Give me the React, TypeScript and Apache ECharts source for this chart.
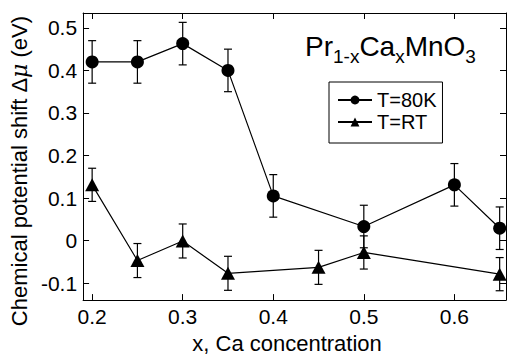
import React, { useEffect, useRef } from "react";
import * as echarts from "echarts";

const FONT = "'Liberation Sans', Arial, Helvetica, sans-serif";

const x80 = [0.2, 0.25, 0.3, 0.35, 0.4, 0.5, 0.6, 0.65];
const y80 = [0.42, 0.42, 0.463, 0.4, 0.105, 0.033, 0.131, 0.029];
const e80 = [0.05, 0.05, 0.05, 0.05, 0.05, 0.05, 0.05, 0.05];

const xRT = [0.2, 0.25, 0.3, 0.35, 0.45, 0.5, 0.65];
const yRT = [0.131, -0.047, -0.001, -0.077, -0.063, -0.028, -0.079];
const eRT = [0.039, 0.04, 0.04, 0.04, 0.04, 0.039, 0.039];

const xTicks = [0.2, 0.3, 0.4, 0.5, 0.6];
const yTicks = [-0.1, 0, 0.1, 0.2, 0.3, 0.4, 0.5];

const seriesNames = ["T=80K", "T=RT"];
const xName = "x, Ca concentration";

function errData(xs: number[], ys: number[], es: number[]) {
  return xs.map((x, i) => [x, ys[i] - es[i], ys[i] + es[i]]);
}

function errorRender(params: any, api: any) {
  const x = api.value(0);
  const lo = api.coord([x, api.value(1)]);
  const hi = api.coord([x, api.value(2)]);
  const cap = 4;
  const style = { stroke: "#000", lineWidth: 1.2 };
  return {
    type: "group",
    children: [
      { type: "line", shape: { x1: lo[0], y1: lo[1], x2: hi[0], y2: hi[1] }, style },
      { type: "line", shape: { x1: lo[0] - cap, y1: lo[1], x2: lo[0] + cap, y2: lo[1] }, style },
      { type: "line", shape: { x1: hi[0] - cap, y1: hi[1], x2: hi[0] + cap, y2: hi[1] }, style },
    ],
  };
}

const fmt = (v: number) => (Math.abs(v) < 1e-9 ? "0" : v.toFixed(1));

export default function App() {
  const ref = useRef<HTMLDivElement>(null);
  useEffect(() => {
    if (!ref.current) return;
    const chart = echarts.init(ref.current, null, { renderer: "svg" });
    const axisLine = { show: true, onZero: false, lineStyle: { color: "#000", width: 1 } };
    const tick = { show: true, inside: true, length: 6, lineStyle: { color: "#000", width: 1 } };
    chart.setOption({
      animation: false,
      backgroundColor: "#fff",
      textStyle: { fontFamily: FONT },
      grid: { left: 78, top: 13, right: 1, bottom: 51 },
      legend: {
        data: seriesNames,
        orient: "vertical",
        left: 329,
        top: 82,
        padding: [8, 6, 11, 8],
        itemGap: 2,
        itemWidth: 34,
        itemHeight: 11,
        borderColor: "#000",
        borderWidth: 1,
        textStyle: { fontFamily: FONT, fontSize: 20, color: "#000", lineHeight: 20 },
      },
      xAxis: [
        {
          type: "value",
          min: 0.19,
          max: 0.657,
          name: xName,
          nameLocation: "middle",
          nameGap: 30,
          nameTextStyle: { fontFamily: FONT, fontSize: 22, color: "#000", padding: [0, 15, 0, 0] },
          axisLine,
          axisTick: { ...tick, customValues: xTicks },
          axisLabel: { customValues: xTicks, formatter: fmt, fontFamily: FONT, fontSize: 21, color: "#000", margin: 6 },
          splitLine: { show: false },
        },
        {
          type: "value",
          position: "top",
          min: 0.19,
          max: 0.657,
          axisLine,
          axisTick: { ...tick, customValues: xTicks },
          axisLabel: { show: false },
          splitLine: { show: false },
        },
      ],
      yAxis: [
        {
          type: "value",
          min: -0.14,
          max: 0.535,
          name: "{n|Chemical potential shift Δ}{m|μ}{n| (eV)}",
          nameLocation: "middle",
          nameGap: 47,
          nameTextStyle: {
            fontFamily: FONT,
            fontSize: 22,
            color: "#000",
            padding: [0, 29, 0, 0],
            rich: {
              n: { fontFamily: FONT, fontSize: 22, color: "#000" },
              m: { fontFamily: "'DejaVu Serif', serif", fontStyle: "italic", fontSize: 22, color: "#000" },
            },
          },
          axisLine,
          axisTick: { ...tick, customValues: yTicks },
          axisLabel: { customValues: yTicks, formatter: fmt, fontFamily: FONT, fontSize: 21, color: "#000", margin: 6 },
          splitLine: { show: false },
        },
        {
          type: "value",
          position: "right",
          min: -0.14,
          max: 0.535,
          axisLine,
          axisTick: { ...tick, customValues: yTicks },
          axisLabel: { show: false },
          splitLine: { show: false },
        },
      ],
      graphic: [
        {
          type: "text",
          left: 305,
          top: 32,
          style: {
            text: "{m|Pr}{s|1-x}{m|Ca}{s|x}{m|MnO}{s|3}",
            fill: "#000",
            rich: {
              m: { fontFamily: FONT, fontSize: 28, lineHeight: 28, verticalAlign: "top", fill: "#000" },
              s: { fontFamily: FONT, fontSize: 19, lineHeight: 19, verticalAlign: "top", padding: [15, 0, 0, 0], fill: "#000" },
            },
          },
        },
      ],
      series: [
        {
          name: "T=80K-err",
          type: "custom",
          renderItem: errorRender,
          data: errData(x80, y80, e80),
          z: 1,
        },
        {
          name: "T=RT-err",
          type: "custom",
          renderItem: errorRender,
          data: errData(xRT, yRT, eRT),
          z: 1,
        },
        {
          name: seriesNames[0],
          type: "line",
          data: x80.map((x, i) => [x, y80[i]]),
          symbol: "circle",
          symbolSize: 13,
          itemStyle: { color: "#000" },
          lineStyle: { color: "#000", width: 1.2 },
          z: 3,
        },
        {
          name: seriesNames[1],
          type: "line",
          data: xRT.map((x, i) => [x, yRT[i]]),
          symbol: "triangle",
          symbolSize: [14, 13],
          itemStyle: { color: "#000" },
          lineStyle: { color: "#000", width: 1.2 },
          z: 3,
        },
      ],
    });
    return () => chart.dispose();
  }, []);
  return <div ref={ref} style={{ position: "absolute", left: 0, top: 0, width: 507, height: 359 }} />;
}
